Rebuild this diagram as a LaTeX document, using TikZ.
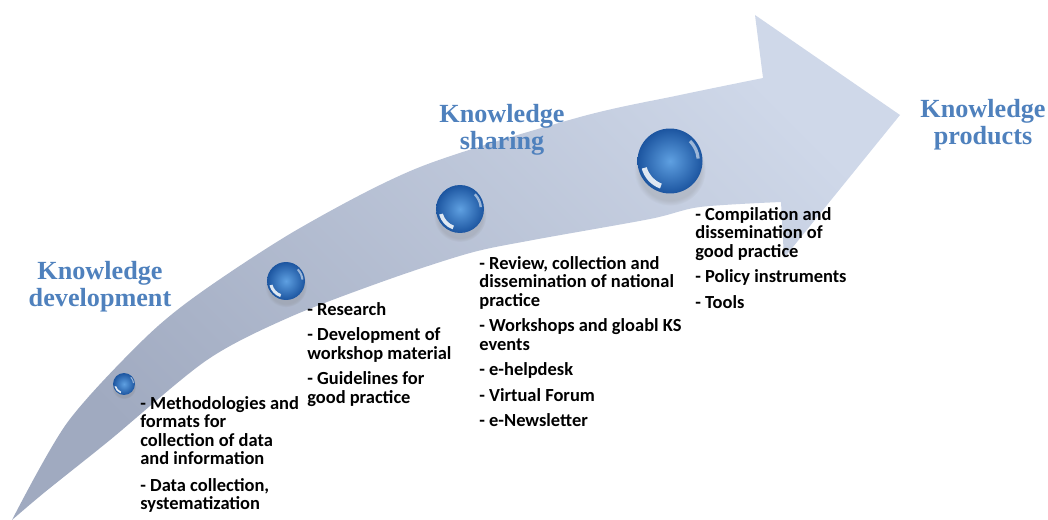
\documentclass[tikz,border=0pt]{standalone}
\usepackage{fontspec}
\newfontfamily\titlefont{Liberation Serif}
\newfontfamily\listfont{Carlito}
\usetikzlibrary{shapes,arrows,positioning,shadows}

\definecolor{arrowdark}{RGB}{160,170,192}
\definecolor{arrowlight}{RGB}{207,216,233}
\definecolor{titleblue}{RGB}{79,129,189}
\definecolor{orblight}{RGB}{95,160,225}
\definecolor{orbdark}{RGB}{28,85,160}

\tikzset{
  orb/.style={circle, inner sep=0pt, minimum size=#1*2cm,
    inner color=orblight, outer color=orbdark,
    circular drop shadow={shadow xshift=0pt, shadow yshift=-#1*0.25cm, opacity=.25},
    path picture={
      \fill[white, opacity=.85, shift={(path picture bounding box.center)}]
        (195:#1*0.9cm) arc[start angle=195, end angle=250, radius=#1*0.9cm]
        -- (250:#1*0.74cm) arc[start angle=250, end angle=195, radius=#1*0.74cm] -- cycle;
      \fill[white, opacity=.55, shift={(path picture bounding box.center)}]
        (5:#1*0.92cm) arc[start angle=5, end angle=45, radius=#1*0.92cm]
        -- (45:#1*0.82cm) arc[start angle=45, end angle=5, radius=#1*0.82cm] -- cycle;
    }}
}

\begin{document}
\begin{tikzpicture}[x=0.02cm, y=-0.02cm]
  % Styles
  \tikzstyle{title} = [font=\titlefont\bfseries\fontsize{14.9}{15.4}\selectfont,
  text=titleblue, align=center, inner sep=0pt, anchor=north]
  \tikzstyle{list} = [font=\listfont\bfseries\fontsize{10.5}{10.5}\selectfont,
  align=left, inner sep=0pt, anchor=north west]

  \useasboundingbox (0,0) rectangle (1048,520);

  % Arrow
  \shade[top color=arrowlight, bottom color=arrowdark, shading angle=-45]
    plot[smooth] coordinates {(12,520) (67,423) (143,340) (200,293) (300,228)
      (420,167) (580,117) (680,95) (763,78)}
    -- (755,15) -- (900,115) -- (784,258) -- (781,202)
    -- plot[smooth] coordinates {(781,202) (700,207) (650,219) (533,240)
      (470,253) (387,280) (290,317) (207,360) (110,440) (45,492) (12,520)}
    -- cycle;

  % Stages
  \node[orb=0.22] (orb1) at (124,384) {};
  \node[orb=0.38] (orb2) at (286,281) {};
  \node[orb=0.48] (orb3) at (460,209) {};
  \node[orb=0.65] (orb4) at (670,161) {};

  \node[title] (devel) at (100,261) {Knowledge\\development};
  \node[title] (sharing) at (502,104) {Knowledge\\sharing};
  \node[title] (products) at (983,99) {Knowledge\\products};

  \node[list] (methods) at (140,396) {- Methodologies and\\formats for\\collection of data\\and information\\[0.16cm]- Data collection,\\systematization};
  \node[list] (research) at (307,302) {- Research\\[0.14cm]- Development of\\workshop material\\[0.14cm]- Guidelines for\\good practice};
  \node[list] (review) at (479,256) {- Review, collection and\\dissemination of national\\practice\\[0.14cm]- Workshops and gloabl KS\\events\\[0.14cm]- e-helpdesk\\[0.14cm]- Virtual Forum\\[0.14cm]- e-Newsletter};
  \node[list] (compile) at (695,207) {- Compilation and\\dissemination of\\good practice\\[0.14cm]- Policy instruments\\[0.14cm]- Tools};
\end{tikzpicture}
\end{document}
